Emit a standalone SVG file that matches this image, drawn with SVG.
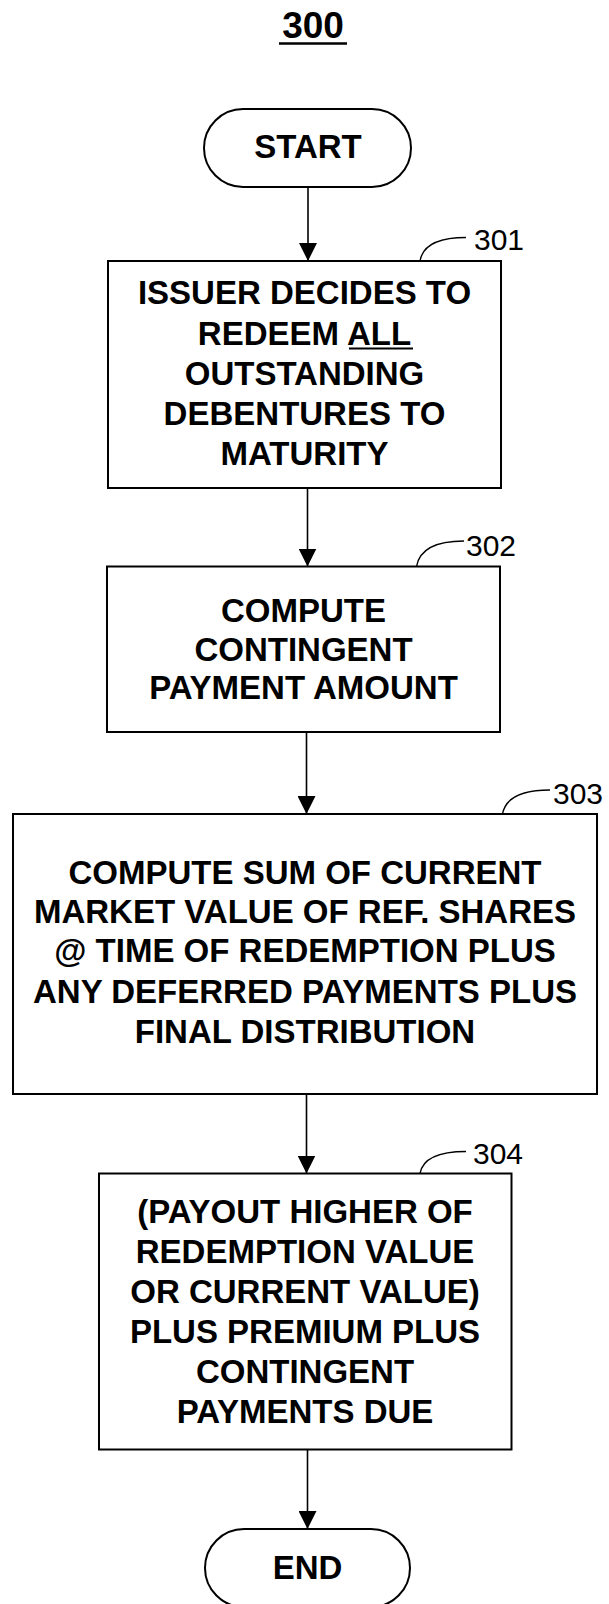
<svg xmlns="http://www.w3.org/2000/svg" width="609" height="1604" viewBox="0 0 609 1604">
<style>
.box{fill:#fff;stroke:#000;stroke-width:2}
.t{font-family:"Liberation Sans",Arial,sans-serif;font-weight:bold;font-size:33px;text-anchor:middle;fill:#000}
.lbl{font-family:"Liberation Sans",Arial,sans-serif;font-size:30px;fill:#000}
.edge{fill:none;stroke:#000;stroke-width:1.6}
.lead{fill:none;stroke:#000;stroke-width:1.4}
</style>
<defs>
<marker id="ah" markerUnits="userSpaceOnUse" markerWidth="18" markerHeight="18" refX="18" refY="9" orient="auto">
<path d="M0,0 L18,9 L0,18 z" fill="#000"/>
</marker>
</defs>
<rect width="609" height="1604" fill="#fff"/>
<g id="title">
<text x="313" y="38" font-family="Liberation Sans,Arial,sans-serif" font-weight="bold" font-size="37" text-anchor="middle">300</text>
<line x1="279" y1="43.5" x2="347" y2="43.5" stroke="#000" stroke-width="2.5"/>
</g>
<g id="start">
<rect class="box" x="204" y="109" width="207" height="78" rx="39"/>
<text class="t" x="308" y="158">START</text>
</g>
<g id="n301">
<rect class="box" x="108" y="261" width="393" height="227"/>
<text class="t" x="304.5" y="304">ISSUER DECIDES TO</text>
<text class="t" x="304.5" y="344.5">REDEEM ALL</text>
<line x1="349" y1="348.5" x2="413" y2="348.5" stroke="#000" stroke-width="2"/>
<text class="t" x="304.5" y="385">OUTSTANDING</text>
<text class="t" x="304.5" y="425">DEBENTURES TO</text>
<text class="t" x="304.5" y="465">MATURITY</text>
<path class="lead" d="M420,261 Q424,237.5 466,237.5"/>
<text class="lbl" x="474" y="250">301</text>
</g>
<g id="n302">
<rect class="box" x="107" y="566.5" width="393" height="165.5"/>
<text class="t" x="303.5" y="621.5">COMPUTE</text>
<text class="t" x="303.5" y="661">CONTINGENT</text>
<text class="t" x="303.5" y="699">PAYMENT AMOUNT</text>
<path class="lead" d="M416.5,566.5 Q421,541 464,541"/>
<text class="lbl" x="466" y="556">302</text>
</g>
<g id="n303">
<rect class="box" x="13" y="814" width="584" height="280"/>
<text class="t" x="305" y="884">COMPUTE SUM OF CURRENT</text>
<text class="t" x="305" y="923">MARKET VALUE OF REF. SHARES</text>
<text class="t" x="305" y="962">@ TIME OF REDEMPTION PLUS</text>
<text class="t" x="305" y="1002.5">ANY DEFERRED PAYMENTS PLUS</text>
<text class="t" x="305" y="1043">FINAL DISTRIBUTION</text>
<path class="lead" d="M502.5,814 Q507,790 550,790"/>
<text class="lbl" x="553" y="804">303</text>
</g>
<g id="n304">
<rect class="box" x="99" y="1173.5" width="412.5" height="276"/>
<text class="t" x="305" y="1223">(PAYOUT HIGHER OF</text>
<text class="t" x="305" y="1263">REDEMPTION VALUE</text>
<text class="t" x="305" y="1303">OR CURRENT VALUE)</text>
<text class="t" x="305" y="1343">PLUS PREMIUM PLUS</text>
<text class="t" x="305" y="1383">CONTINGENT</text>
<text class="t" x="305" y="1422.5">PAYMENTS DUE</text>
<path class="lead" d="M420,1173.5 Q424,1151.5 466,1151.5"/>
<text class="lbl" x="473" y="1163.5">304</text>
</g>
<g id="end">
<rect class="box" x="205" y="1529" width="205" height="78" rx="39"/>
<text class="t" x="307.5" y="1579">END</text>
</g>
<g id="connectors">
<line class="edge" x1="308" y1="187" x2="308" y2="261" marker-end="url(#ah)"/>
<line class="edge" x1="307.5" y1="488" x2="307.5" y2="566.5" marker-end="url(#ah)"/>
<line class="edge" x1="306.5" y1="732" x2="306.5" y2="814" marker-end="url(#ah)"/>
<line class="edge" x1="306.5" y1="1094" x2="306.5" y2="1173.5" marker-end="url(#ah)"/>
<line class="edge" x1="307.5" y1="1449.5" x2="307.5" y2="1529" marker-end="url(#ah)"/>
</g>
</svg>
